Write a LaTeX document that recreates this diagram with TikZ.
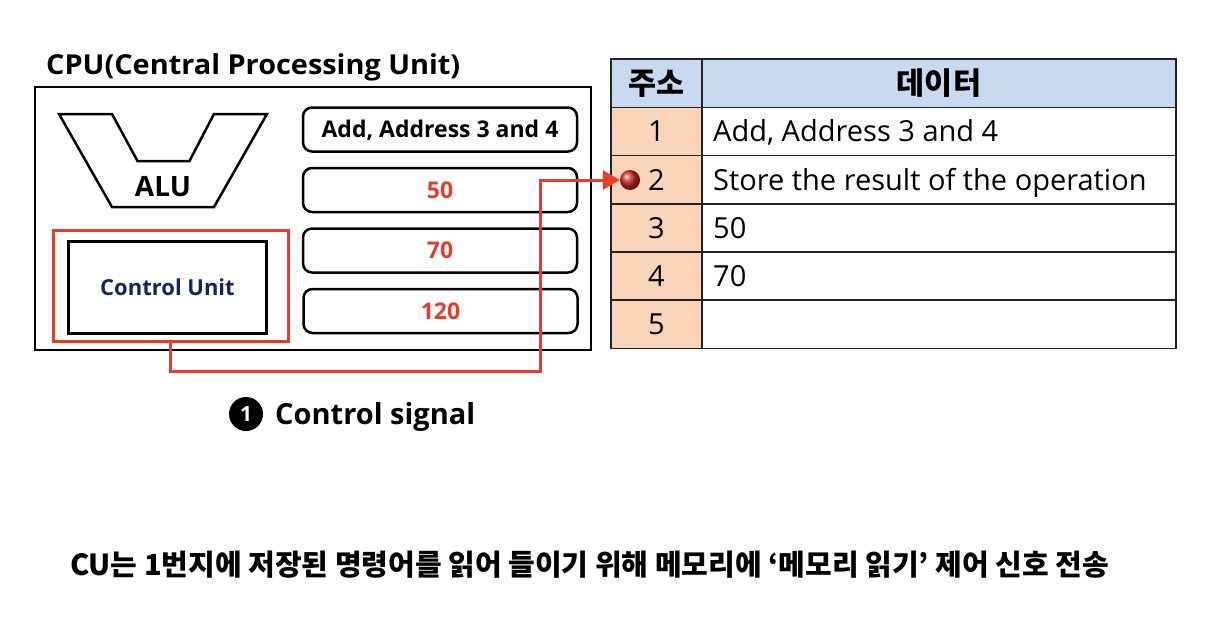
\documentclass[tikz,border=0pt]{standalone}
\usepackage{fontspec}
\setmainfont{Open Sans}
\newfontfamily\widefont[FakeStretch=1.05]{Open Sans}
\newfontfamily\cjk{Noto Sans CJK KR}
\usetikzlibrary{arrows.meta}
\definecolor{redc}{RGB}{234,59,42}
\definecolor{navyc}{RGB}{22,36,92}
\definecolor{headblue}{RGB}{201,217,240}
\definecolor{peach}{RGB}{248,213,184}
\definecolor{gridc}{RGB}{35,35,35}
\definecolor{dotc}{RGB}{205,45,35}
\newcommand\fsz[1]{\fontsize{#1}{#1}\selectfont}
\begin{document}
\begin{tikzpicture}[x=1pt,y=-1pt,
  reg/.style={draw, line width=2.5pt, rounded corners=9pt, minimum width=274pt, minimum height=44pt, inner sep=0pt, font=\bfseries\fsz{23}, text height=16.4pt, text depth=0pt},
  redline/.style={draw=redc, line width=3pt},
  cell/.style={draw=gridc, line width=1.5pt, inner sep=0pt, minimum height=48.2pt},
  acell/.style={cell, fill=peach, minimum width=91pt},
  dcell/.style={cell, fill=white, minimum width=474pt},
  num/.style={font=\fsz{29}, inner sep=0pt, text height=20.7pt, text depth=0pt},
  dat/.style={font=\fsz{29}, inner sep=0pt, anchor=west, text height=20.7pt, text depth=0pt},
  head/.style={font=\cjk\bfseries\fsz{30.5}, inner sep=0pt}
]
\useasboundingbox (0,0) rectangle (1218,624);
\fill[white] (0,0) rectangle (1218,624);

% title
\node[anchor=base west, inner sep=0pt, font=\widefont\bfseries\fsz{27.5}] (title) at (46,74) {CPU(Central Processing Unit)};

% CPU box
\node[draw, line width=2pt, minimum width=555.5pt, minimum height=263.5pt, inner sep=0pt] (cpu) at (312.75,218.25) {};

% ALU
\draw[line width=2.5pt, line join=miter] (59,114) -- (112,114) -- (137.5,161) -- (189.5,161) -- (214,114) -- (267,114) -- (214,207) -- (112,207) -- cycle;
\node[font=\bfseries\fsz{28}, inner sep=0pt, text height=20pt, text depth=0pt] (alu) at (163,186) {ALU};

% registers
\node[reg] (r1) at (440,129.5) {Add, Address 3 and 4};
\node[reg, text=redc] (r2) at (440,190) {50};
\node[reg, text=redc] (r3) at (440,250.5) {70};
\node[reg, text=redc] (r4) at (440.5,311) {120};

% control unit
\node[draw=redc, line width=3pt, minimum width=235pt, minimum height=111pt, inner sep=0pt] (redbox) at (170.5,285.5) {};
\node[draw, line width=3pt, minimum width=198pt, minimum height=92.5pt, inner sep=0pt, font=\bfseries\fsz{22}, text=navyc, text height=15.7pt, text depth=0pt] (cu) at (167.5,287.25) {Control Unit};

% memory table
\node[cell, fill=headblue, minimum width=91pt, minimum height=48.5pt] (ha) at (656.5,83.25) {};
\node[cell, fill=headblue, minimum width=474pt, minimum height=48.5pt] (hd) at (939,83.25) {};
\node[head] (hat) at (ha.center) {주소};
\node[head] (hdt) at (hd.center) {데이터};

\node[acell] (a1) at (656.5,131.6) {};
\node[dcell] (d1) at (939,131.6) {};
\node[acell] (a2) at (656.5,179.8) {};
\node[dcell] (d2) at (939,179.8) {};
\node[acell] (a3) at (656.5,228.0) {};
\node[dcell] (d3) at (939,228.0) {};
\node[acell] (a4) at (656.5,276.1) {};
\node[dcell] (d4) at (939,276.1) {};
\node[acell] (a5) at (656.5,324.2) {};
\node[dcell] (d5) at (939,324.2) {};

\node[num] (n1) at (a1.center) {1};
\node[num] (n2) at (a2.center) {2};
\node[num] (n3) at (a3.center) {3};
\node[num] (n4) at (a4.center) {4};
\node[num] (n5) at (a5.center) {5};

\node[dat] (t1) at (713,131.6) {Add, Address 3 and 4};
\node[dat] (t2) at (713,179.8) {Store the result of the operation};
\node[dat] (t3) at (713,228.0) {50};
\node[dat] (t4) at (713,276.1) {70};

% pointer dot
\node[circle, minimum size=20pt, inner sep=0pt, shade, ball color=dotc] (dot) at (630,180) {};

% control signal path
\coordinate (turn) at (540,371);
\draw[redline, -{Triangle[length=17pt,width=19pt]}] (redbox.south) |- (turn) |- (dot.west);

% label
\node[circle, fill=black, minimum size=34pt, inner sep=0pt, text=white, font=\bfseries\fsz{21}] (one) at (246,414) {1};
\node[anchor=west, inner sep=0pt, font=\bfseries\fsz{29}, text height=20.7pt, text depth=0pt] (sig) at (275,414) {Control signal};

% caption
\node[anchor=base, inner sep=0pt, font=\cjk\bfseries\fsz{29}] (caption) at (589.5,575) {CU는 1번지에 저장된 명령어를 읽어 들이기 위해 메모리에 ‘메모리 읽기’ 제어 신호 전송};
\end{tikzpicture}
\end{document}
